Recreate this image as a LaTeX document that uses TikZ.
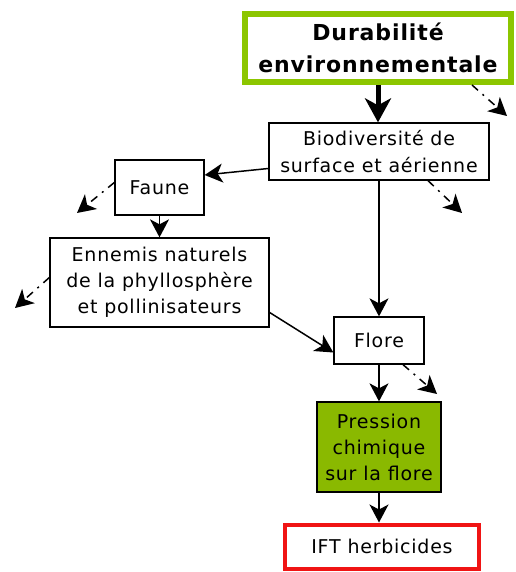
\documentclass[tikz,border=0pt]{standalone}
\usepackage{fontspec}
\setmainfont{DejaVu Sans}[LetterSpace=4]
\newfontfamily\titlefont{DejaVu Sans}[LetterSpace=4]
\usetikzlibrary{arrows.meta}
\definecolor{durgreen}{RGB}{140,198,0}
\definecolor{presgreen}{RGB}{138,185,0}
\definecolor{iftred}{RGB}{240,20,20}
\tikzset{
  box/.style={draw, line width=1.3pt, fill=white, align=center, inner sep=0pt,
    font=\fontsize{19}{26}\selectfont},
  arr/.style={-{Stealth[length=18pt,width=19pt,inset=5pt]}, line width=1.5pt},
  dotarr/.style={arr, dash pattern=on 8pt off 6pt on 2pt off 6pt},
  bigarr/.style={-{Stealth[length=24pt,width=26pt,inset=7pt]}, line width=5pt},
}
\begin{document}
\begin{tikzpicture}[x=1pt,y=-1pt]
\useasboundingbox (0,0) rectangle (515,572);
\node[box, draw=durgreen, line width=6pt, minimum width=266pt, minimum height=68pt,
  font=\titlefont\bfseries\fontsize{22}{32}\selectfont] (dur) at (378,48)
  {Durabilité\\environnementale};
\node[box, minimum width=220pt, minimum height=57pt, font=\fontsize{19}{27}\selectfont] (bio) at (379,151.5)
  {Biodiversité de\\surface et aérienne};
\node[box, minimum width=89pt, minimum height=55pt] (faune) at (159.5,187.5) {Faune};
\node[box, minimum width=219pt, minimum height=89pt] (enn) at (159.5,282.5)
  {Ennemis naturels\\de la phyllosphère\\et pollinisateurs};
\node[box, minimum width=90pt, minimum height=47pt] (flore) at (379,340.5) {Flore};
\node[box, fill=presgreen, minimum width=124pt, minimum height=90pt] (pres) at (379,447)
  {Pression\\chimique\\sur la flore};
\node[box, draw=iftred, line width=4pt, minimum width=194pt, minimum height=44pt] (ift) at (382,546.5)
  {IFT herbicides};

\coordinate (e1) at (507,116);
\coordinate (e2) at (462,213);
\coordinate (e3) at (77,213);
\coordinate (e4) at (15,308);
\coordinate (e5) at (437,394);

\draw[bigarr] (dur.south) -- (dur.south |- bio.north);
\draw[arr] (bio.south) -- (flore.north);
\draw[arr] ([yshift=-17pt]bio.west) -- ([yshift=12.5pt]faune.east);
\draw[arr] (faune.south) -- (enn.north);
\draw[arr] ([yshift=-30pt]enn.east) -- ([yshift=-12pt]flore.west);
\draw[arr] (flore.south) -- (pres.north);
\draw[arr] (pres.south) -- (pres.south |- ift.north);

\draw[dotarr] ([xshift=94pt]dur.south) -- (e1);
\draw[dotarr] ([xshift=49pt]bio.south) -- (e2);
\draw[dotarr] ([yshift=5pt]faune.west) -- (e3);
\draw[dotarr] ([yshift=5pt]enn.west) -- (e4);
\draw[dotarr] ([xshift=24pt]flore.south) -- (e5);
\end{tikzpicture}
\end{document}
